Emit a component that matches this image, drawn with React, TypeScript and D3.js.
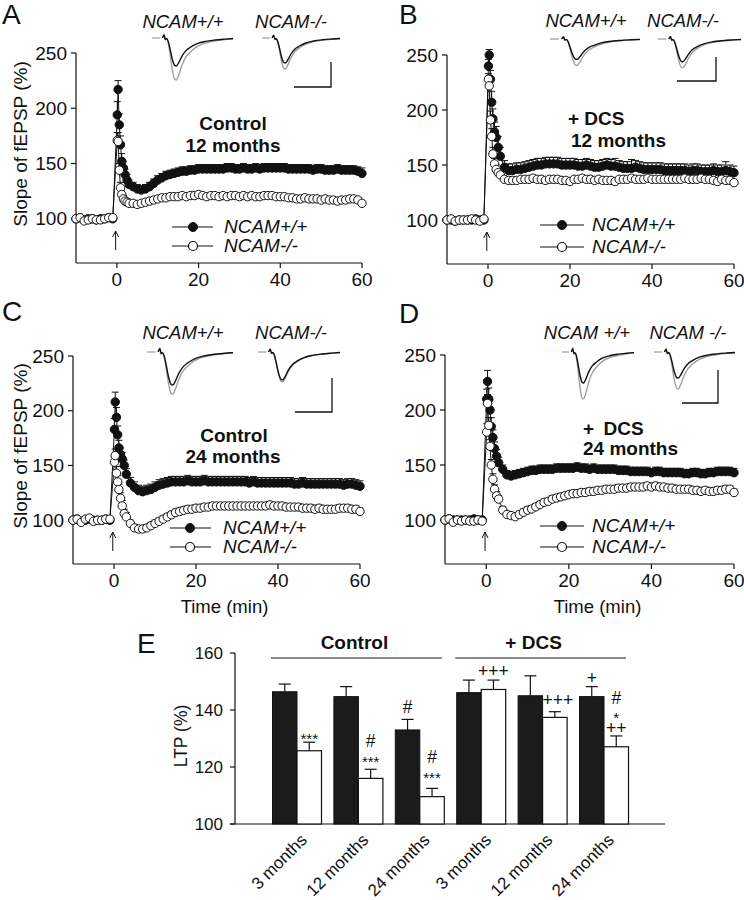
import * as d3 from 'd3'

const FONT = 'Arial, "Liberation Sans", Helvetica, sans-serif'
const INK = '#111'
const GREY = '#9a9a9a'

// sampling times (min) shared by the four LTP time-courses
const times = [
  -10, -9, -8, -7, -6, -5, -4, -3, -2, -1,
  0.1, 0.3, 0.6, 0.9, 1.2, 1.6, 2, 2.5, 3,
  4, 5, 6, 7, 8, 9, 10, 11, 12, 13,
  14, 15, 16, 17, 18, 19, 20, 21, 22, 23,
  24, 25, 26, 27, 28, 29, 30, 31, 32, 33,
  34, 35, 36, 37, 38, 39, 40, 41, 42, 43,
  44, 45, 46, 47, 48, 49, 50, 51, 52, 53,
  54, 55, 56, 57, 58, 59, 60,
]

// A - control, 12 months
const aWt = [
  100, 101, 99, 100, 100, 99, 100, 100, 101, 100,
  194, 217, 185, 167, 152, 146, 140, 135, 131,
  129, 127, 126, 127, 129, 132, 135, 137, 139, 140,
  141, 142, 143, 143, 144, 144, 145, 145, 145, 145,
  145, 145, 145, 146, 146, 145, 145, 146, 145, 145,
  146, 145, 146, 146, 146, 146, 146, 146, 145, 145,
  145, 145, 145, 145, 144, 145, 145, 144, 144, 144,
  145, 144, 144, 144, 144, 143, 141,
]
const aWtErr = [
  2, 2, 2, 2, 2, 2, 2, 2, 2, 2,
  12, 8, 10, 8, 7, 6, 5, 5, 4,
  4, 4, 4, 4, 4, 4, 4, 4, 4, 4,
  4, 4, 4, 4, 4, 4, 4, 4, 4, 4,
  4, 4, 4, 4, 4, 4, 4, 4, 4, 4,
  4, 4, 4, 4, 4, 4, 4, 4, 4, 4,
  4, 4, 4, 4, 4, 4, 4, 4, 4, 4,
  4, 4, 4, 4, 4, 4, 5,
]
const aKo = [
  100, 101, 98, 99, 100, 99, 99, 100, 101, 101,
  171, 170, 144, 128, 122, 118, 116, 115, 114,
  114, 113, 114, 115, 116, 117, 118, 119, 119, 120,
  120, 120, 121, 120, 121, 121, 122, 121, 120, 121,
  121, 120, 121, 120, 121, 121, 120, 121, 120, 121,
  120, 120, 121, 121, 121, 120, 120, 120, 119, 119,
  118, 118, 119, 118, 118, 118, 117, 118, 117, 117,
  116, 117, 117, 118, 118, 117, 114,
]
const aKoErr = [
  1, 1, 1, 1, 1, 1, 1, 1, 1, 1,
  7, 8, 6, 5, 4, 3, 3, 3, 2,
  2, 2, 2, 2, 2, 2, 2, 2, 2, 2,
  2, 2, 2, 2, 2, 2, 2, 2, 2, 2,
  2, 2, 2, 2, 2, 2, 2, 2, 2, 2,
  2, 2, 2, 2, 2, 2, 2, 2, 2, 2,
  2, 2, 2, 2, 2, 2, 2, 2, 2, 2,
  2, 2, 2, 2, 2, 2, 2,
]

// B - DCS, 12 months
const bWt = [
  100, 100, 99, 100, 100, 100, 100, 101, 100, 100,
  240, 250, 228, 207, 192, 180, 175, 166, 158,
  148, 145, 145, 146, 146, 147, 148, 149, 150, 150,
  151, 151, 151, 151, 150, 150, 150, 150, 149, 149,
  150, 149, 148, 148, 149, 150, 149, 149, 148, 147,
  147, 147, 148, 147, 146, 146, 146, 146, 146, 145,
  145, 145, 145, 145, 145, 144, 145, 145, 144, 144,
  144, 145, 144, 144, 145, 144, 143,
]
const bWtErr = [
  2, 2, 2, 2, 2, 2, 2, 2, 2, 2,
  6, 5, 8, 10, 9, 9, 10, 10, 8,
  6, 6, 6, 6, 6, 6, 6, 6, 6, 6,
  6, 6, 6, 6, 6, 6, 6, 6, 6, 6,
  6, 6, 6, 6, 6, 6, 6, 7, 6, 6,
  6, 8, 6, 6, 6, 6, 6, 6, 6, 6,
  6, 6, 6, 6, 6, 6, 6, 6, 6, 6,
  6, 6, 6, 6, 8, 6, 6,
]
const bKo = [
  100, 101, 99, 100, 100, 100, 101, 100, 99, 101,
  228, 222, 191, 176, 160, 151, 146, 143, 141,
  137, 136, 136, 136, 137, 137, 137, 138, 137, 137,
  136, 137, 137, 137, 136, 136, 135, 137, 137, 138,
  137, 137, 136, 137, 136, 136, 136, 135, 137, 137,
  137, 138, 137, 137, 137, 138, 137, 137, 137, 137,
  137, 137, 137, 137, 138, 137, 137, 137, 138, 137,
  137, 136, 135, 137, 136, 136, 134,
]
const bKoErr = [
  1, 1, 1, 1, 1, 1, 1, 1, 1, 1,
  5, 5, 8, 7, 6, 5, 4, 3, 3,
  2, 2, 2, 2, 2, 2, 2, 2, 2, 2,
  2, 2, 2, 2, 2, 2, 2, 2, 2, 2,
  2, 2, 2, 2, 2, 2, 2, 2, 2, 2,
  2, 2, 2, 2, 2, 2, 2, 2, 2, 2,
  2, 2, 2, 2, 2, 2, 2, 2, 2, 2,
  2, 2, 2, 2, 2, 2, 2,
]

// C - control, 24 months
const cWt = [
  100, 101, 99, 100, 101, 100, 100, 100, 101, 100,
  183, 208, 194, 178, 166, 160, 156, 150, 142,
  134, 130, 127, 126, 127, 128, 130, 132, 133, 134,
  135, 135, 135, 135, 136, 135, 135, 135, 136, 135,
  135, 135, 135, 135, 135, 135, 135, 135, 135, 134,
  135, 134, 134, 134, 134, 134, 134, 134, 134, 134,
  133, 133, 134, 133, 133, 133, 133, 133, 133, 133,
  133, 133, 132, 133, 133, 132, 131,
]
const cWtErr = [
  2, 2, 2, 2, 2, 2, 2, 2, 2, 2,
  10, 9, 9, 8, 7, 6, 6, 5, 5,
  5, 5, 5, 5, 5, 5, 5, 5, 5, 5,
  5, 5, 5, 5, 5, 5, 5, 5, 5, 5,
  5, 5, 5, 5, 5, 5, 5, 5, 5, 5,
  5, 5, 5, 5, 5, 5, 5, 5, 5, 5,
  5, 5, 5, 5, 5, 5, 5, 5, 5, 5,
  5, 5, 5, 5, 5, 5, 5,
]
const cKo = [
  100, 101, 98, 101, 102, 99, 100, 100, 101, 101,
  153, 159, 143, 135, 128, 120, 113, 106, 103,
  97, 93, 92, 92, 93, 95, 97, 99, 101, 103,
  105, 107, 108, 109, 110, 110, 111, 111, 112, 112,
  113, 113, 113, 113, 113, 113, 113, 113, 113, 113,
  113, 113, 113, 113, 114, 113, 113, 113, 112, 112,
  112, 112, 111, 111, 111, 110, 111, 110, 110, 110,
  110, 111, 111, 111, 110, 110, 108,
]
const cKoErr = [
  1, 1, 1, 1, 1, 1, 1, 1, 1, 1,
  6, 6, 6, 6, 5, 5, 5, 4, 4,
  3, 3, 3, 3, 3, 3, 3, 3, 3, 3,
  3, 3, 3, 3, 3, 3, 3, 3, 3, 3,
  3, 3, 3, 3, 3, 3, 3, 3, 3, 3,
  3, 3, 3, 3, 3, 3, 3, 3, 3, 3,
  3, 3, 3, 3, 3, 3, 3, 3, 3, 3,
  3, 3, 3, 3, 3, 3, 3,
]

// D - DCS, 24 months
const dWt = [
  100, 101, 100, 100, 100, 100, 100, 101, 100, 100,
  210, 226, 210, 200, 185, 175, 165, 158, 152,
  146, 141, 140, 141, 142, 143, 144, 145, 145, 146,
  146, 146, 146, 147, 147, 147, 147, 147, 148, 147,
  147, 146, 147, 146, 146, 146, 146, 146, 145, 145,
  145, 144, 144, 144, 144, 144, 143, 144, 144, 143,
  143, 143, 143, 143, 142, 142, 143, 143, 142, 142,
  143, 143, 144, 144, 144, 144, 143,
]
const dWtErr = [
  2, 2, 2, 2, 2, 2, 2, 2, 2, 2,
  9, 10, 10, 9, 8, 7, 6, 6, 5,
  4, 4, 4, 4, 4, 4, 4, 4, 4, 4,
  4, 4, 4, 4, 4, 4, 4, 4, 4, 4,
  4, 4, 4, 4, 4, 4, 4, 4, 4, 4,
  4, 4, 4, 4, 4, 4, 4, 4, 4, 4,
  4, 4, 4, 4, 4, 4, 4, 4, 4, 4,
  4, 4, 4, 4, 4, 4, 4,
]
const dKo = [
  100, 101, 98, 100, 99, 100, 99, 99, 100, 99,
  180, 206, 186, 167, 150, 137, 128, 122, 119,
  109, 105, 104, 103, 105, 107, 109, 110, 112, 114,
  116, 117, 119, 120, 121, 122, 123, 124, 124, 125,
  125, 126, 126, 127, 127, 128, 128, 128, 129, 129,
  129, 130, 130, 130, 130, 131, 130, 131, 130, 130,
  129, 129, 128, 128, 128, 128, 127, 127, 126, 127,
  126, 126, 127, 127, 128, 128, 125,
]
const dKoErr = [
  1, 1, 1, 1, 1, 1, 1, 1, 1, 1,
  8, 8, 7, 6, 5, 5, 4, 4, 3,
  3, 3, 3, 3, 3, 3, 3, 3, 3, 3,
  3, 3, 3, 3, 3, 3, 3, 3, 3, 3,
  3, 3, 3, 3, 3, 3, 3, 3, 3, 3,
  3, 3, 3, 3, 3, 3, 3, 3, 3, 3,
  3, 3, 3, 3, 3, 3, 3, 3, 3, 3,
  3, 3, 3, 3, 3, 3, 3,
]

const yTicks = [100, 150, 200, 250]
const xTicks = [0, 20, 40, 60]

// normalised fEPSP waveform (x: 0..1 of inset width, y: 1 = peak negativity)
const waveX = [0.13, 0.15, 0.165, 0.18, 0.2, 0.22, 0.25, 0.28, 0.3, 0.33, 0.37, 0.42, 0.48, 0.56, 0.66, 0.78, 0.9, 1.0]
const waveY = [0, -0.1, 0.05, 0.02, 0.12, 0.35, 0.75, 0.98, 1.0, 0.88, 0.65, 0.45, 0.32, 0.2, 0.12, 0.07, 0.04, 0.02]
// peak amplitudes (mV): [before, after] for NCAM+/+ and NCAM-/- insets
const ampA = [[1.12, 1.68], [1.0, 1.24]]
const ampB = [[0.85, 1.1], [0.95, 1.2]]
const ampC = [[0.97, 1.24], [0.82, 0.88]]
const ampD = [[0.94, 1.42], [0.79, 1.12]]

// E - mean LTP
const groupKeys = ['c3', 'c12', 'c24', 'd3', 'd12', 'd24']
const groupLabels = ['3 months', '12 months', '24 months', '3 months', '12 months', '24 months']
const ltpWt = [146.4, 144.7, 133.0, 146.1, 145.0, 144.7]
const ltpWtErr = [2.7, 3.5, 3.7, 4.4, 7.0, 3.5]
const ltpKo = [125.7, 116.0, 109.6, 147.2, 137.4, 127.1]
const ltpKoErr = [3.0, 3.2, 2.9, 3.3, 2.0, 3.8]
const ltpTicks = [100, 120, 140, 160]
const treatments = [
  { label: 'Control', from: 'c3', to: 'c24', dx: -2 },
  { label: '+ DCS', from: 'd3', to: 'd24', dx: -7 },
]
const sigMarks = [
  { g: 'c3', bar: 'ko', text: '***', dy: 2, size: 15 },
  { g: 'c12', bar: 'ko', text: '***', dy: -2, size: 15 },
  { g: 'c12', bar: 'ko', text: '#', dy: -22, size: 17.5 },
  { g: 'c24', bar: 'wt', text: '#', dy: -6, size: 17.5 },
  { g: 'c24', bar: 'ko', text: '***', dy: -5, size: 15 },
  { g: 'c24', bar: 'ko', text: '#', dy: -25, size: 17.5 },
  { g: 'd3', bar: 'ko', text: '+++', dy: -3, size: 17.5 },
  { g: 'd12', bar: 'ko', text: '+++', dy: -6, dx: 3, size: 17.5 },
  { g: 'd24', bar: 'wt', text: '+', dy: -3, size: 17.5 },
  { g: 'd24', bar: 'ko', text: '++', dy: -2, size: 17.5 },
  { g: 'd24', bar: 'ko', text: '*', dy: -13, size: 15 },
  { g: 'd24', bar: 'ko', text: '#', dy: -32, size: 17.5 },
]

const panels = [
  {
    key: 'A', wt: aWt, wtErr: aWtErr, ko: aKo, koErr: aKoErr,
    xr: [76, 362], yr: [263, 53], letter: [2, 24], ylab: true, xlab: false,
    notes: [
      { t: 'Control', x: 233, y: 130, a: 'middle' },
      { t: '12 months', x: 233, y: 152, a: 'middle' },
    ],
    legend: { cx: 193, y1: 227, y2: 246, l0: 172, l1: 213, tx: 224 },
    insets: { base: 38, labelY: 28, ppm: 25, amps: ampA,
      traces: [{ x0: 152, x1: 233, label: 'NCAM+/+', lx: 183 }, { x0: 262, x1: 340, label: 'NCAM-/-', lx: 291 }],
      bar: { x: 331, y0: 62, y1: 87, xl: 294 } },
  },
  {
    key: 'B', wt: bWt, wtErr: bWtErr, ko: bKo, koErr: bKoErr,
    xr: [447, 734], yr: [264, 55], letter: [399, 24], ylab: false, xlab: false,
    notes: [
      { t: '+ DCS', x: 568, y: 125, a: 'start' },
      { t: '12 months', x: 571, y: 147, a: 'start' },
    ],
    legend: { cx: 562, y1: 225, y2: 247, l0: 540, l1: 584, tx: 592 },
    insets: { base: 39, labelY: 27, ppm: 24, amps: ampB,
      traces: [{ x0: 550, x1: 640, label: 'NCAM+/+', lx: 586 }, { x0: 658, x1: 741, label: 'NCAM-/-', lx: 683 }],
      bar: { x: 716, y0: 57, y1: 81, xl: 677 } },
  },
  {
    key: 'C', wt: cWt, wtErr: cWtErr, ko: cKo, koErr: cKoErr,
    xr: [73, 360], yr: [564, 356], letter: [2, 321], ylab: true, xlab: true,
    notes: [
      { t: 'Control', x: 234, y: 442, a: 'middle' },
      { t: '24 months', x: 233, y: 463, a: 'middle' },
    ],
    legend: { cx: 190, y1: 528, y2: 547, l0: 170, l1: 211, tx: 223 },
    insets: { base: 352, labelY: 339, ppm: 34, amps: ampC,
      traces: [{ x0: 147, x1: 233, label: 'NCAM+/+', lx: 183 }, { x0: 258, x1: 340, label: 'NCAM-/-', lx: 291 }],
      bar: { x: 332, y0: 378, y1: 412, xl: 295 } },
  },
  {
    key: 'D', wt: dWt, wtErr: dWtErr, ko: dKo, koErr: dKoErr,
    xr: [445, 734], yr: [564, 355], letter: [399, 323], ylab: false, xlab: true,
    notes: [
      { t: '+\u2002DCS', x: 583, y: 435, a: 'start' },
      { t: '24 months', x: 583, y: 455, a: 'start' },
    ],
    legend: { cx: 562, y1: 526, y2: 547, l0: 540, l1: 584, tx: 592 },
    insets: { base: 352, labelY: 339, ppm: 33, amps: ampD,
      traces: [{ x0: 562, x1: 634, label: 'NCAM +/+', lx: 587 }, { x0: 654, x1: 735, label: 'NCAM -/-', lx: 688 }],
      bar: { x: 718, y0: 370, y1: 403, xl: 682 } },
  },
]

function Insets({ ins }) {
  return (
    <g>
      {ins.traces.map((t, k) => {
        const xs = d3.scaleLinear().domain([0, 1]).range([t.x0, t.x1])
        const [ampBefore, ampAfter] = ins.amps[k]
        const wave = (amp) => {
          const ys = d3.scaleLinear().domain([0, 1]).range([ins.base, ins.base + amp * ins.ppm])
          return d3.line<number>().curve(d3.curveMonotoneX)
            .x((_, i) => xs(waveX[i])).y(v => ys(v))(waveY)
        }
        return (
          <g key={k}>
            <text x={t.lx} y={ins.labelY} textAnchor="middle" fontStyle="italic" fontSize={18.5} fill={INK}>{t.label}</text>
            <line x1={xs(0)} x2={xs(0.1)} y1={ins.base} y2={ins.base} stroke={GREY} strokeWidth={1.2} />
            <path d={wave(ampAfter)} fill="none" stroke={GREY} strokeWidth={1.3} />
            <path d={wave(ampBefore)} fill="none" stroke={INK} strokeWidth={1.4} />
          </g>
        )
      })}
      <path d={`M${ins.bar.x},${ins.bar.y0}V${ins.bar.y1}H${ins.bar.xl}`} fill="none" stroke={INK} strokeWidth={1.3} />
    </g>
  )
}

function TimeCourse({ p }) {
  const x = d3.scaleLinear().domain([-10, 60]).range(p.xr)
  const y = d3.scaleLinear().domain([60, 250]).range(p.yr)
  const line = d3.line<number>().x((_, i) => x(times[i])).y(v => y(v))
  const x0 = p.xr[0]
  const yb = y(60)
  const ax = x(-0.3)

  const series = (vals, errs, filled) => (
    <g>
      <path d={line(vals)} fill="none" stroke={INK} strokeWidth={1} />
      {vals.map((v, i) => {
        const cx = x(times[i])
        const yt = y(v + errs[i])
        return (
          <g key={i}>
            <line x1={cx} x2={cx} y1={y(v)} y2={yt} stroke={INK} strokeWidth={1} />
            <line x1={cx - 3.5} x2={cx + 3.5} y1={yt} y2={yt} stroke={INK} strokeWidth={1} />
          </g>
        )
      })}
      {vals.map((v, i) => (
        <circle key={i} cx={x(times[i])} cy={y(v)} r={4.2} fill={filled ? INK : '#fff'} stroke={INK} strokeWidth={1} />
      ))}
    </g>
  )

  const lg = p.legend
  return (
    <g>
      <text x={p.letter[0]} y={p.letter[1]} fontSize={28} fill={INK}>{p.key}</text>
      {/* axes */}
      <line x1={x0} x2={x0} y1={y(250)} y2={yb} stroke={INK} strokeWidth={1.2} />
      <line x1={x0} x2={p.xr[1]} y1={yb} y2={yb} stroke={INK} strokeWidth={1.2} />
      {yTicks.map(t => (
        <g key={t}>
          <line x1={x0 - 5} x2={x0} y1={y(t)} y2={y(t)} stroke={INK} strokeWidth={1.2} />
          <text x={x0 - 9} y={y(t)} dy="0.35em" textAnchor="end" fontSize={19} fill={INK}>{t}</text>
        </g>
      ))}
      {xTicks.map(t => (
        <g key={t}>
          <line x1={x(t)} x2={x(t)} y1={yb} y2={yb + 5} stroke={INK} strokeWidth={1.2} />
          <text x={x(t)} y={yb + 23} textAnchor="middle" fontSize={19} fill={INK}>{t}</text>
        </g>
      ))}
      {p.ylab && (
        <text transform={`translate(27,${(y(250) + yb) / 2 - 14}) rotate(-90)`} textAnchor="middle" fontSize={19} fill={INK}>
          Slope of fEPSP (%)
        </text>
      )}
      {p.xlab && (
        <text x={(x0 + p.xr[1]) / 2 + 8} y={yb + 49} textAnchor="middle" fontSize={18.5} fill={INK}>Time (min)</text>
      )}
      {/* tetanus arrow */}
      <line x1={ax} x2={ax} y1={yb - 13} y2={yb - 32} stroke={INK} strokeWidth={1} />
      <polyline points={`${ax - 3},${yb - 26} ${ax},${yb - 32} ${ax + 3},${yb - 26}`} fill="none" stroke={INK} strokeWidth={1} />

      {series(p.wt, p.wtErr, true)}
      {series(p.ko, p.koErr, false)}

      {/* legend */}
      <line x1={lg.l0} x2={lg.l1} y1={lg.y1} y2={lg.y1} stroke={INK} strokeWidth={1.2} />
      <circle cx={lg.cx} cy={lg.y1} r={4.5} fill={INK} stroke={INK} />
      <text x={lg.tx} y={lg.y1 + 6} fontSize={19} fontStyle="italic" fill={INK}>NCAM+/+</text>
      <line x1={lg.l0} x2={lg.l1} y1={lg.y2} y2={lg.y2} stroke={INK} strokeWidth={1.2} />
      <circle cx={lg.cx} cy={lg.y2} r={4.5} fill="#fff" stroke={INK} strokeWidth={1.2} />
      <text x={lg.tx} y={lg.y2 + 6} fontSize={19} fontStyle="italic" fill={INK}>NCAM-/-</text>

      {p.notes.map((n, i) => (
        <text key={i} x={n.x} y={n.y} textAnchor={n.a} fontSize={19} fontWeight="bold" fill={INK}>{n.t}</text>
      ))}
      <Insets ins={p.insets} />
    </g>
  )
}

function LtpBars() {
  const xg = d3.scalePoint<string>().domain(groupKeys).range([297, 604])
  const y = d3.scaleLinear().domain([100, 160]).range([824, 653])
  const bw = 24.5
  const axX = 235
  const barTop = (g, bar) => {
    const i = groupKeys.indexOf(g)
    return bar === 'wt' ? y(ltpWt[i] + ltpWtErr[i]) : y(ltpKo[i] + ltpKoErr[i])
  }
  return (
    <g>
      <text x={137} y={653} fontSize={28} fill={INK}>E</text>
      <line x1={axX} x2={axX} y1={y(160)} y2={y(100)} stroke={INK} strokeWidth={1.2} />
      <line x1={axX - 5} x2={665} y1={y(100)} y2={y(100)} stroke={INK} strokeWidth={1.2} />
      {ltpTicks.map(t => (
        <g key={t}>
          <line x1={axX - 5} x2={axX} y1={y(t)} y2={y(t)} stroke={INK} strokeWidth={1.2} />
          <text x={axX - 12} y={y(t)} dy="0.35em" textAnchor="end" fontSize={17} fill={INK}>{t}</text>
        </g>
      ))}
      <text transform={`translate(187,736) rotate(-90)`} textAnchor="middle" fontSize={17.5} fill={INK}>LTP (%)</text>

      {groupKeys.map((g, i) => {
        const c = xg(g)
        const yw = y(ltpWt[i]), yk = y(ltpKo[i])
        const ew = y(ltpWt[i] + ltpWtErr[i]), ek = y(ltpKo[i] + ltpKoErr[i])
        return (
          <g key={g}>
            <line x1={c - bw / 2} x2={c - bw / 2} y1={yw} y2={ew} stroke={INK} strokeWidth={1.2} />
            <line x1={c - bw / 2 - 6} x2={c - bw / 2 + 6} y1={ew} y2={ew} stroke={INK} strokeWidth={1.2} />
            <line x1={c + bw / 2} x2={c + bw / 2} y1={yk} y2={ek} stroke={INK} strokeWidth={1.2} />
            <line x1={c + bw / 2 - 6} x2={c + bw / 2 + 6} y1={ek} y2={ek} stroke={INK} strokeWidth={1.2} />
            <rect x={c - bw} y={yw} width={bw} height={y(100) - yw} fill="#1b1b1b" stroke={INK} strokeWidth={1} />
            <rect x={c} y={yk} width={bw} height={y(100) - yk} fill="#fff" stroke={INK} strokeWidth={1.2} />
            <text transform={`translate(${c + 11},841) rotate(-45)`} textAnchor="end" fontSize={17} fill={INK}>{groupLabels[i]}</text>
          </g>
        )
      })}

      {treatments.map(t => {
        const l0 = xg(t.from) - 26, l1 = xg(t.to) + 22
        return (
          <g key={t.label}>
            <line x1={l0} x2={l1} y1={658} y2={658} stroke={INK} strokeWidth={1.2} />
            <text x={(l0 + l1) / 2 + t.dx} y={649} textAnchor="middle" fontSize={19} fontWeight="bold" fill={INK}>{t.label}</text>
          </g>
        )
      })}

      {sigMarks.map((m, i) => {
        const c = xg(m.g) + (m.bar === 'wt' ? -bw / 2 : bw / 2) + (m.dx || 0)
        return (
          <text key={i} x={c} y={barTop(m.g, m.bar) + m.dy} textAnchor="middle" fontSize={m.size} fill={INK}>{m.text}</text>
        )
      })}
    </g>
  )
}

export default function App() {
  return (
    <svg width={744} height={900} viewBox="0 0 744 900" fontFamily={FONT}
      style={{ position: 'absolute', left: 0, top: 0, background: '#fff' }}>
      <rect width={744} height={900} fill="#fff" />
      {panels.map(p => <TimeCourse key={p.key} p={p} />)}
      <LtpBars />
    </svg>
  )
}
